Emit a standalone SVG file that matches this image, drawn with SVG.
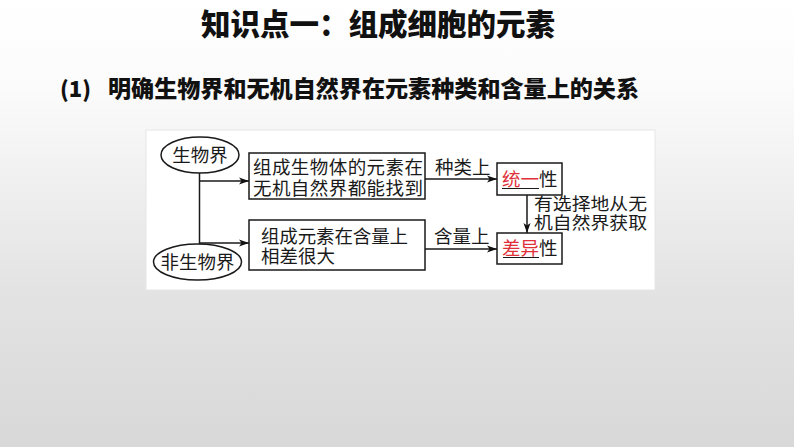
<svg xmlns="http://www.w3.org/2000/svg" width="794" height="447" viewBox="0 0 794 447">
<defs>
<linearGradient id="bg" x1="0" y1="0" x2="0" y2="1">
<stop offset="0" stop-color="#ffffff"/>
<stop offset="0.2" stop-color="#fbfbfb"/>
<stop offset="0.65" stop-color="#e3e3e3"/>
<stop offset="1" stop-color="#d8d8d8"/>
</linearGradient>
<marker id="ah" markerWidth="10" markerHeight="8" refX="10" refY="4" orient="auto" markerUnits="userSpaceOnUse">
<path d="M0,0.5 L10,4 L0,7.5 L2.5,4 Z" fill="#111"/>
</marker>
<style>
.t{font-family:"Liberation Serif","Noto Sans CJK SC",serif;font-size:18.5px;fill:#1a1a1a}
.s{font-size:17px}
.r{fill:#e0303a}
.box{fill:#fff;stroke:#1a1a1a;stroke-width:1.5}
.ln{stroke:#1a1a1a;stroke-width:1.5;fill:none}
.h{font-family:"Noto Sans CJK SC","Liberation Sans",sans-serif;font-weight:900;fill:#111}
</style>
</defs>
<rect width="794" height="447" fill="url(#bg)"/>
<text class="h" x="378" y="35" font-size="29.5" text-anchor="middle">知识点一：组成细胞的元素</text>
<text class="h" x="60" y="97" font-size="22">(1)</text>
<text class="h" x="108" y="97" font-size="22.5" textLength="531" lengthAdjust="spacingAndGlyphs">明确生物界和无机自然界在元素种类和含量上的关系</text>
<rect x="146" y="130" width="509" height="160" fill="#fff" stroke="#e6e6e6" stroke-width="1"/>
<g id="connectors">
<line class="ln" x1="199.5" y1="173" x2="199.5" y2="244"/>
<line class="ln" x1="199.5" y1="181" x2="249" y2="181" marker-end="url(#ah)"/>
<line class="ln" x1="199.5" y1="243" x2="249" y2="243" marker-end="url(#ah)"/>
<line class="ln" x1="425" y1="179" x2="497" y2="179" marker-end="url(#ah)"/>
<line class="ln" x1="425" y1="249" x2="497" y2="249" marker-end="url(#ah)"/>
<line class="ln" x1="527" y1="195" x2="527" y2="233" marker-end="url(#ah)"/>
<text class="t" x="435" y="174">种类上</text>
<text class="t" x="434" y="243">含量上</text>
<text class="t s" x="534" y="210" textLength="113" lengthAdjust="spacingAndGlyphs">有选择地从无</text>
<text class="t s" x="534" y="229" textLength="113" lengthAdjust="spacingAndGlyphs">机自然界获取</text>
</g>
<g id="n-bio">
<ellipse class="box" cx="200" cy="155" rx="39" ry="18"/>
<text class="t" x="200" y="162" text-anchor="middle">生物界</text>
</g>
<g id="n-nonbio">
<ellipse class="box" cx="197.5" cy="262" rx="44" ry="18"/>
<text class="t" x="197.5" y="269" text-anchor="middle">非生物界</text>
</g>
<g id="n-box1">
<rect class="box" x="249" y="153" width="176" height="46"/>
<text class="t" x="253" y="174" textLength="170">组成生物体的元素在</text>
<text class="t" x="253" y="195" textLength="170">无机自然界都能找到</text>
</g>
<g id="n-box2">
<rect class="box" x="249" y="220" width="176" height="50"/>
<text class="t" x="261" y="243" textLength="147">组成元素在含量上</text>
<text class="t" x="261" y="263">相差很大</text>
</g>
<g id="n-unity">
<rect class="box" x="497" y="163" width="65" height="32"/>
<text class="t" x="502" y="186"><tspan class="r">统一</tspan>性</text>
<line x1="502" y1="188.5" x2="539" y2="188.5" stroke="#1a1a1a" stroke-width="1"/>
</g>
<g id="n-diff">
<rect class="box" x="497" y="233" width="65" height="31"/>
<text class="t" x="502" y="255"><tspan class="r">差异</tspan>性</text>
<line x1="503" y1="257.5" x2="539" y2="257.5" stroke="#1a1a1a" stroke-width="1"/>
</g>
</svg>
